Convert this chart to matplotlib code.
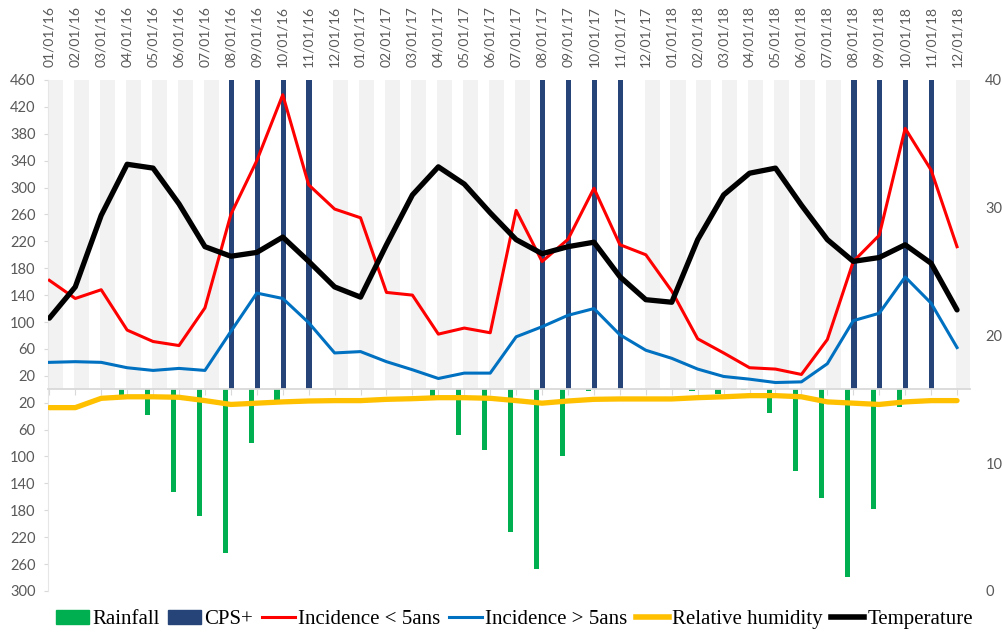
import matplotlib.pyplot as plt
import numpy as np
from matplotlib.ticker import FuncFormatter
from matplotlib.patches import Patch
from matplotlib.lines import Line2D

months = [f"{m:02d}/01/{y}" for y in (16, 17, 18) for m in range(1, 13)]

incidence_under5 = [162, 135, 148, 88, 71, 65, 121, 260, 340, 438, 304, 268,
                    255, 144, 140, 82, 91, 84, 266, 190, 223, 299, 215, 200,
                    146, 75, 54, 32, 30, 22, 74, 190, 229, 388, 326, 212]
incidence_over5 = [40, 41, 40, 32, 28, 31, 28, 86, 143, 135, 99, 54,
                   56, 41, 29, 16, 24, 24, 78, 93, 110, 120, 81, 58,
                   46, 30, 19, 15, 10, 11, 38, 102, 113, 167, 128, 62]
rainfall = [0, 0, 0, 8, 39, 153, 188, 244, 80, 17, 0, 0,
            0, 0, 0, 16, 68, 91, 213, 268, 100, 3, 0, 0,
            0, 2, 7, 1.5, 35, 121, 162, 279, 178, 26, 0, 0]
cps_pos = [0, 0, 0, 0, 0, 0, 0, 460, 460, 460, 460, 0,
           0, 0, 0, 0, 0, 0, 0, 460, 460, 460, 460, 0,
           0, 0, 0, 0, 0, 0, 0, 460, 460, 460, 460, 0]
cps_neg = [460, 460, 460, 460, 460, 460, 460, 0, 0, 0, 0, 460,
           460, 460, 460, 460, 460, 460, 460, 0, 0, 0, 0, 460,
           460, 460, 460, 460, 460, 460, 460, 0, 0, 0, 0, 460]
temperature = [21.35, 23.8, 29.4, 33.4, 33.1, 30.3, 26.95, 26.2, 26.5, 27.7, 25.8, 23.8,
               23.0, 27.1, 31.0, 33.2, 31.85, 29.6, 27.5, 26.4, 26.95, 27.3, 24.6, 22.8,
               22.6, 27.5, 31.0, 32.7, 33.1, 30.2, 27.5, 25.8, 26.1, 27.1, 25.65, 22.0]
humidity = [14.35, 14.35, 15.08, 15.2, 15.2, 15.16, 14.9, 14.6, 14.7, 14.8, 14.87, 14.9,
            14.9, 15.0, 15.05, 15.13, 15.13, 15.08, 14.9, 14.7, 14.87, 15.0, 15.03, 15.03,
            15.03, 15.13, 15.2, 15.29, 15.29, 15.2, 14.8, 14.7, 14.6, 14.8, 14.9, 14.9]

GREY_TXT = "#595959"
x = np.arange(len(months))

fig = plt.figure(figsize=(10.03, 6.33), dpi=100)
ax = fig.add_axes([0.0479, 0.0664, 0.9192, 0.8073])

# background / CPS bars and rainfall (drawn downward)
ax.bar(x + 0.24, cps_neg, width=0.58, color="#F2F2F2", zorder=1)
ax.bar(x + 0.02, cps_pos, width=0.21, color="#264478", zorder=2)
ax.bar(x - 0.22, -np.array(rainfall), width=0.2, color="#00B050", zorder=2)

ax.plot(x, incidence_under5, color="#FF0000", lw=2.2, zorder=3)
ax.plot(x, incidence_over5, color="#0070C0", lw=2.2, zorder=3)

ax.set_xlim(-0.05, 35.5)
ax.set_ylim(-300, 460)
ax.set_yticks(np.arange(-300, 461, 40))
ax.yaxis.set_major_formatter(FuncFormatter(lambda v, p: f"{abs(v):.0f}"))
ax.tick_params(axis="y", length=3, color="#D9D9D9", labelcolor=GREY_TXT,
               labelsize=10.5, pad=6)
for lab in ax.get_yticklabels():
    lab.set_fontfamily("Lato")

# category axis sits on the zero line, labels go on top
ax.spines["bottom"].set_position(("data", 0))
ax.spines["bottom"].set_color("#D9D9D9")
ax.spines["bottom"].set_linewidth(1.3)
ax.spines["bottom"].set_zorder(2.5)
ax.spines["left"].set_color("#E6E6E6")
ax.spines["top"].set_visible(False)
ax.spines["right"].set_visible(False)
ax.set_xticks(x)
ax.tick_params(axis="x", length=4, color="#D9D9D9", labelbottom=False)

top = ax.secondary_xaxis("top")
top.set_xticks(x)
top.set_xticklabels(months, rotation=90, family="Lato", fontsize=10, color=GREY_TXT)
top.tick_params(length=0, pad=9)
top.spines["top"].set_visible(False)

ax2 = ax.twinx()
ax2.plot(x, humidity, color="#FFC000", lw=3.8, solid_capstyle="round")
ax2.plot(x, temperature, color="black", lw=3.8, solid_capstyle="round")
ax2.set_ylim(0, 40)
ax2.set_yticks([0, 10, 20, 30, 40])
ax2.tick_params(axis="y", length=0, pad=11, labelcolor=GREY_TXT, labelsize=10.5)
for lab in ax2.get_yticklabels():
    lab.set_fontfamily("Lato")
for s in ax2.spines.values():
    s.set_visible(False)

handles = [
    Patch(color="#00B050", label="Rainfall"),
    Patch(color="#264478", label="CPS+"),
    Line2D([], [], color="#FF0000", lw=2.2, label="Incidence < 5ans"),
    Line2D([], [], color="#0070C0", lw=2.2, label="Incidence > 5ans"),
    Line2D([], [], color="#FFC000", lw=4, label="Relative humidity"),
    Line2D([], [], color="black", lw=4, label="Temperature"),
]
fig.legend(handles=handles, loc="center", bbox_to_anchor=(0.513, 0.021), ncol=6,
           frameon=False, prop={"family": "Liberation Serif", "size": 15},
           handlelength=1.6, handletextpad=0.15, columnspacing=0.4,
           borderpad=0, borderaxespad=0)

fig.savefig("out.png", dpi=100)
